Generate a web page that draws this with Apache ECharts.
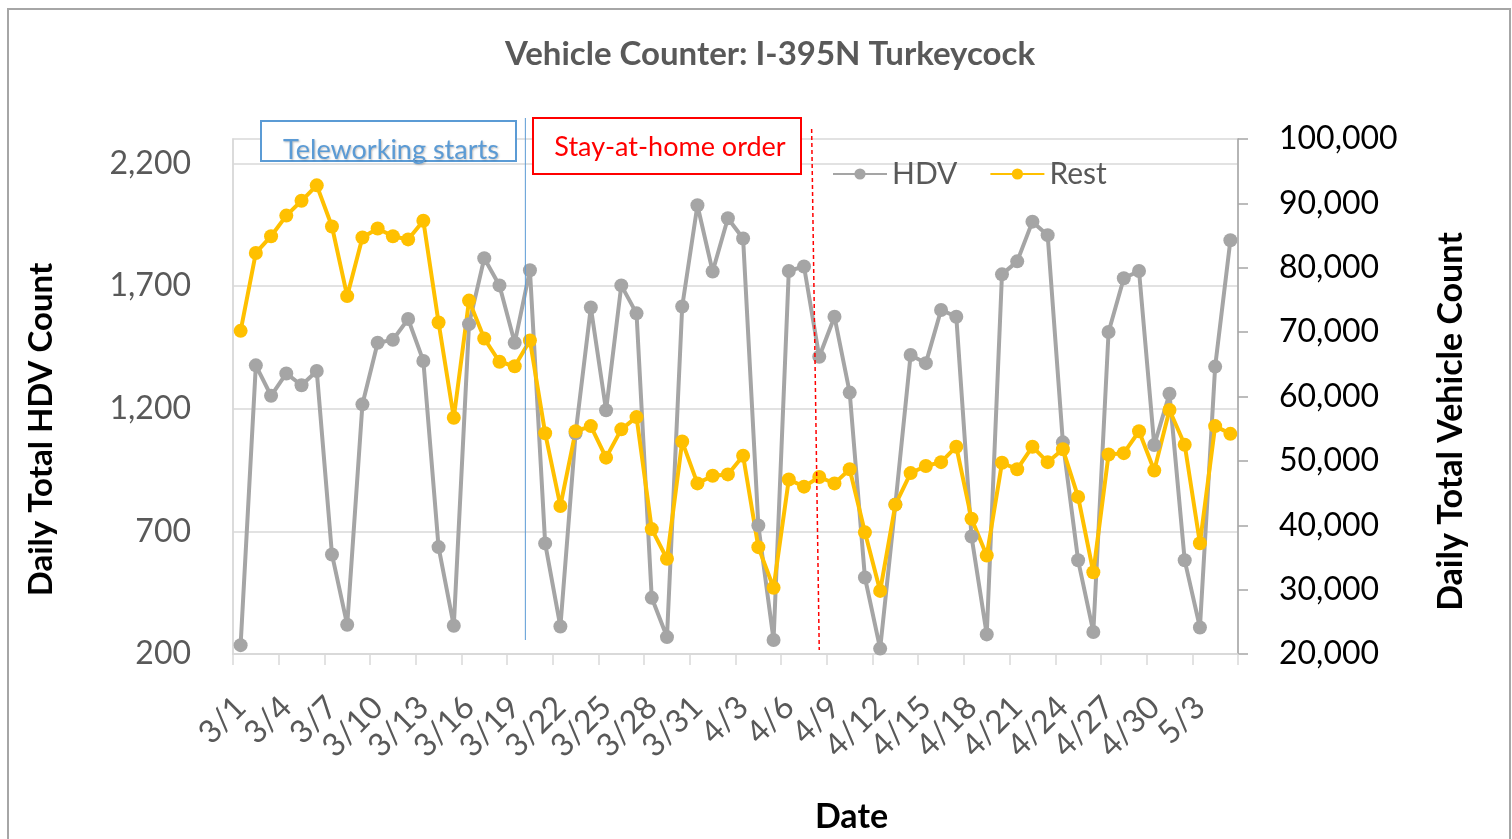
<!DOCTYPE html>
<html>
<head>
<meta charset="utf-8">
<title>Vehicle Counter: I-395N Turkeycock</title>
<script src="https://cdn.jsdelivr.net/npm/echarts@6/dist/echarts.min.js"></script>
<style>
  html, body { margin: 0; padding: 0; background: #fff; }
  #chart { width: 1512px; height: 839px; }
</style>
</head>
<body>
<div id="chart"></div>
<script>
// daily categories, 3/1 .. 5/5
const dates = [
  '3/1', '3/2', '3/3', '3/4', '3/5', '3/6', '3/7', '3/8', '3/9', '3/10',
  '3/11', '3/12', '3/13', '3/14', '3/15', '3/16', '3/17', '3/18', '3/19', '3/20',
  '3/21', '3/22', '3/23', '3/24', '3/25', '3/26', '3/27', '3/28', '3/29', '3/30',
  '3/31', '4/1', '4/2', '4/3', '4/4', '4/5', '4/6', '4/7', '4/8', '4/9',
  '4/10', '4/11', '4/12', '4/13', '4/14', '4/15', '4/16', '4/17', '4/18', '4/19',
  '4/20', '4/21', '4/22', '4/23', '4/24', '4/25', '4/26', '4/27', '4/28', '4/29',
  '4/30', '5/1', '5/2', '5/3', '5/4', '5/5'
];

// heavy duty vehicles (left axis)
const hdv = [
  236, 1377, 1253, 1344, 1296, 1354, 606, 319, 1218, 1469,
  1481, 1566, 1395, 636, 315, 1545, 1814, 1703, 1469, 1765,
  651, 312, 1100, 1613, 1194, 1703, 1589, 429, 269, 1617,
  2030, 1760, 1977, 1894, 724, 257, 1762, 1780, 1412, 1575,
  1266, 512, 222, 810, 1419, 1386, 1603, 1575, 679, 280,
  1748, 1801, 1963, 1908, 1063, 582, 290, 1513, 1732, 1762,
  1052, 1261, 582, 308, 1372, 1887
];

// everything else (right axis)
const rest = [
  70200, 82300, 84900, 88100, 90400, 92800, 86400, 75600, 84700, 86100,
  84900, 84400, 87300, 71500, 56700, 74900, 69000, 65400, 64700, 68700,
  54300, 43000, 54600, 55400, 50500, 54900, 56800, 39400, 34800, 53000,
  46500, 47700, 47900, 50800, 36600, 30300, 47100, 46000, 47500, 46500,
  48700, 38900, 29800, 43200, 48100, 49200, 49800, 52200, 41000, 35300,
  49700, 48700, 52200, 49800, 51800, 44400, 32700, 51000, 51200, 54600,
  48500, 57900, 52500, 37200, 55400, 54200
];

const hdvTicks = [200, 700, 1200, 1700, 2200];

// where the two policy dates sit (fractional category index)
const teleworkAt = 18.7;
const stayHomeAt = [37.5, 38.0]; // top, bottom (the line leans a little)

const FONT = 'Lato, "Open Sans", sans-serif';
const fmt = v => v.toLocaleString('en-US');

const chart = echarts.init(document.getElementById('chart'));
chart.setOption({
  animation: false,
  backgroundColor: '#fff',
  title: {
    text: 'Vehicle Counter: I-395N Turkeycock',
    left: 765,
    textAlign: 'center',
    top: 33,
    textStyle: { fontFamily: FONT, fontSize: 33, fontWeight: 'bold', color: '#595959' }
  },
  legend: {
    left: 827,
    top: 154,
    itemWidth: 54,
    itemHeight: 14,
    itemGap: 32,
    textStyle: { fontFamily: FONT, fontSize: 30, color: '#595959' },
    data: ['HDV', 'Rest']
  },
  grid: {
    left: 233, right: 274, top: 139, bottom: 184,
    show: true, borderColor: '#d9d9d9', borderWidth: 1.5
  },
  xAxis: {
    type: 'category',
    data: dates,
    boundaryGap: true,
    axisLine: { lineStyle: { color: '#d9d9d9', width: 1.5 } },
    axisTick: { show: true, interval: 2, length: 11, lineStyle: { color: '#d9d9d9', width: 1.5 } },
    axisLabel: { interval: 2, rotate: 45, margin: 48, fontFamily: FONT, fontSize: 32, color: '#595959' },
    name: 'Date',
    nameLocation: 'middle',
    nameGap: 146,
    nameTextStyle: { fontFamily: FONT, fontSize: 34, fontWeight: 'bold', color: '#000', padding: [0, 0, 0, 232] }
  },
  yAxis: [
    {
      type: 'value',
      position: 'left',
      min: 200,
      max: 2300,
      axisLine: { show: true, lineStyle: { color: '#d9d9d9', width: 1.5 } },
      axisTick: { show: false, customValues: hdvTicks },
      axisLabel: { customValues: hdvTicks, formatter: fmt, margin: 42, fontFamily: FONT, fontSize: 32, color: '#595959' },
      splitLine: { show: true, lineStyle: { color: '#d9d9d9', width: 1.5 } },
      name: 'Daily Total HDV Count',
      nameLocation: 'middle',
      nameRotate: 90,
      nameGap: 175,
      nameTextStyle: { fontFamily: FONT, fontSize: 33, fontWeight: 'bold', color: '#000', padding: [0, 66, 0, 0] }
    },
    {
      type: 'value',
      position: 'right',
      min: 20000,
      max: 100000,
      interval: 10000,
      axisLine: { show: true, lineStyle: { color: '#a6a6a6', width: 1.5 } },
      axisTick: { show: true, length: 10, lineStyle: { color: '#a6a6a6', width: 1.5 } },
      axisLabel: { formatter: fmt, margin: 41, fontFamily: FONT, fontSize: 32, color: '#000' },
      splitLine: { show: false },
      name: 'Daily Total Vehicle Count',
      nameLocation: 'middle',
      nameRotate: 90,
      nameGap: 196,
      nameTextStyle: { fontFamily: FONT, fontSize: 34, fontWeight: 'bold', color: '#000', padding: [0, 50, 0, 0] }
    }
  ],
  series: [
    {
      name: 'HDV',
      type: 'line',
      yAxisIndex: 0,
      data: hdv,
      symbol: 'circle',
      symbolSize: 14,
      showAllSymbol: true,
      lineStyle: { color: '#a5a5a5', width: 4 },
      itemStyle: { color: '#a5a5a5' }
    },
    {
      name: 'Rest',
      type: 'line',
      yAxisIndex: 1,
      data: rest,
      symbol: 'circle',
      symbolSize: 14,
      showAllSymbol: true,
      lineStyle: { color: '#ffc000', width: 4 },
      itemStyle: { color: '#ffc000' }
    }
  ]
});

// x pixel for a fractional category index
function xAt(f) {
  const i = Math.floor(f);
  const a = chart.convertToPixel({ xAxisIndex: 0 }, dates[i]);
  const b = chart.convertToPixel({ xAxisIndex: 0 }, dates[i + 1]);
  return a + (b - a) * (f - i);
}

chart.setOption({
  graphic: [
    // outer chart frame
    { type: 'rect', shape: { x: 8, y: 9, width: 1502, height: 850 },
      style: { fill: 'none', stroke: '#a6a6a6', lineWidth: 2 }, silent: true, z: 0 },
    // teleworking marker
    { type: 'line', shape: { x1: xAt(teleworkAt), y1: 118, x2: xAt(teleworkAt), y2: 640 },
      style: { stroke: '#5b9bd5', lineWidth: 1 }, silent: true, z: 50 },
    { type: 'rect', shape: { x: 261, y: 121, width: 255, height: 40 },
      style: { fill: '#fff', stroke: '#5b9bd5', lineWidth: 2 }, silent: true, z: 50 },
    { type: 'text', x: 391, y: 150,
      style: { text: 'Teleworking starts', fontFamily: FONT, fontSize: 27, fill: '#5b9bd5',
        align: 'center', verticalAlign: 'middle',
        textShadowColor: 'rgba(0,0,0,0.25)', textShadowBlur: 2, textShadowOffsetX: 1, textShadowOffsetY: 1 },
      silent: true, z: 51 },
    // stay-at-home marker
    { type: 'line', shape: { x1: xAt(stayHomeAt[0]), y1: 129, x2: xAt(stayHomeAt[1]), y2: 650 },
      style: { stroke: '#ff0000', lineWidth: 1.5, lineDash: [4, 3] }, silent: true, z: 50 },
    { type: 'rect', shape: { x: 533, y: 118, width: 268, height: 56 },
      style: { fill: '#fff', stroke: '#ff0000', lineWidth: 2 }, silent: true, z: 50 },
    { type: 'text', x: 670, y: 147,
      style: { text: 'Stay-at-home order', fontFamily: FONT, fontSize: 27, fill: '#ff0000',
        align: 'center', verticalAlign: 'middle' },
      silent: true, z: 51 }
  ]
});
</script>
</body>
</html>
